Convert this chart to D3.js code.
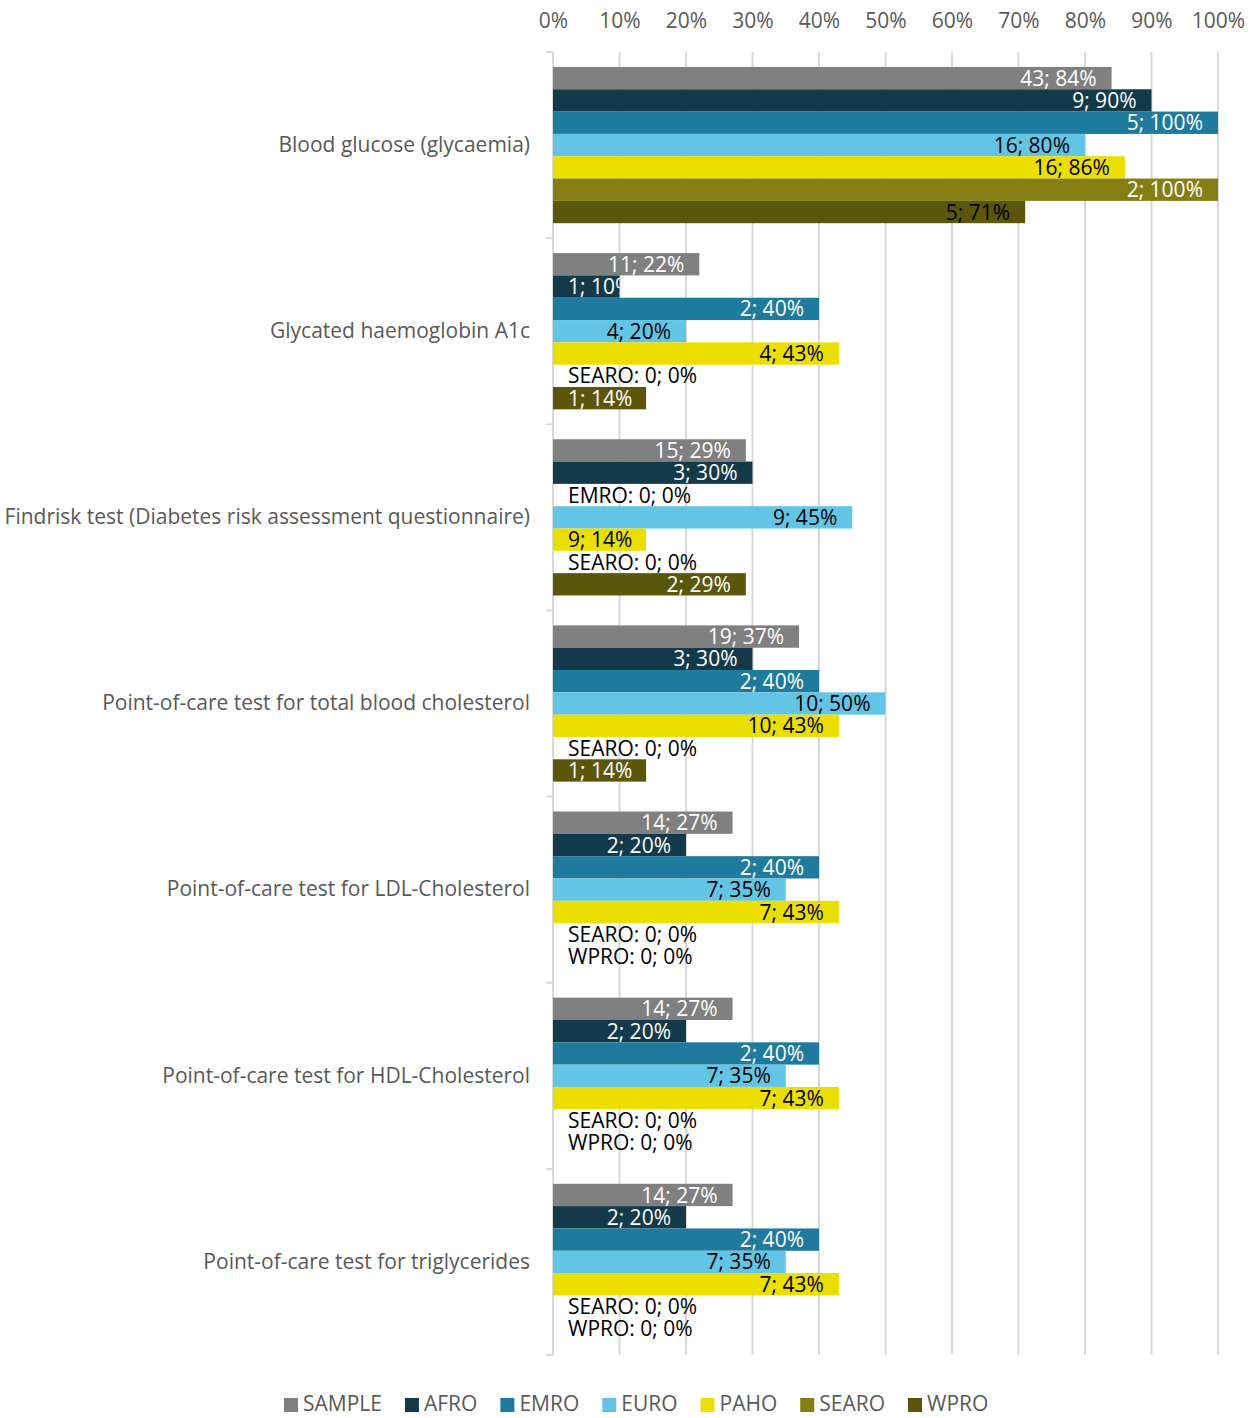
<!DOCTYPE html>
<html>
<head>
<meta charset="utf-8">
<script src="https://cdn.jsdelivr.net/npm/d3@7"></script>
<style>
  html, body { margin: 0; padding: 0; background: #ffffff; }
  svg { display: block; font-family: "Open Sans", "Noto Sans", sans-serif; }
</style>
</head>
<body>
<svg id="chart" width="1256" height="1418"></svg>
<script>
// Point-of-care tests available, by WHO region
const categories = [
  "Blood glucose (glycaemia)",
  "Glycated haemoglobin A1c",
  "Findrisk test (Diabetes risk assessment questionnaire)",
  "Point-of-care test for total blood cholesterol",
  "Point-of-care test for LDL-Cholesterol",
  "Point-of-care test for HDL-Cholesterol",
  "Point-of-care test for triglycerides"
];
const seriesNames = ["SAMPLE", "AFRO", "EMRO", "EURO", "PAHO", "SEARO", "WPRO"];
const seriesColors = ["#808080", "#133a4a", "#1f7b9d", "#63c5e5", "#ebdf00", "#847e14", "#5c560b"];
const labelColors  = ["#ffffff", "#ffffff", "#ffffff", "#000000", "#000000", "#ffffff", "#ffffff"];

// share (%) per category, one array per series
const SAMPLE = [84, 22, 29, 37, 27, 27, 27];
const AFRO   = [90, 10, 30, 30, 20, 20, 20];
const EMRO   = [100, 40, 0, 40, 40, 40, 40];
const EURO   = [80, 20, 45, 50, 35, 35, 35];
const PAHO   = [86, 43, 14, 43, 43, 43, 43];
const SEARO  = [100, 0, 0, 0, 0, 0, 0];
const WPRO   = [71, 14, 29, 14, 0, 0, 0];

// number of countries per category, one array per series
const SAMPLE_N = [43, 11, 15, 19, 14, 14, 14];
const AFRO_N   = [9, 1, 3, 3, 2, 2, 2];
const EMRO_N   = [5, 2, 0, 2, 2, 2, 2];
const EURO_N   = [16, 4, 9, 10, 7, 7, 7];
const PAHO_N   = [16, 4, 9, 10, 7, 7, 7];
const SEARO_N  = [2, 0, 0, 0, 0, 0, 0];
const WPRO_N   = [5, 1, 2, 1, 0, 0, 0];

const xTicks = [0, 10, 20, 30, 40, 50, 60, 70, 80, 90, 100];
// one data label drawn dark on its bar
const darkLabels = [{ cat: 0, series: "WPRO" }];

const values = [SAMPLE, AFRO, EMRO, EURO, PAHO, SEARO, WPRO];
const counts = [SAMPLE_N, AFRO_N, EMRO_N, EURO_N, PAHO_N, SEARO_N, WPRO_N];

const rows = [];
categories.forEach((c, ci) => {
  seriesNames.forEach((s, si) => {
    rows.push({ cat: c, ci, series: s, si, value: values[si][ci], n: counts[si][ci] });
  });
});

const svg = d3.select("#chart");
const textGray = "#595959";
const gridGray = "#d9d9d9";
const fs = 21;

const plot = { left: 553, right: 1218, top: 52, bottom: 1355 };

const x = d3.scaleLinear().domain([0, 100]).range([plot.left, plot.right]);
const y = d3.scaleBand().domain(categories).range([plot.top, plot.bottom]).padding(0);
const yInner = d3.scaleBand().domain(seriesNames).range([0, y.bandwidth()]).paddingInner(0).paddingOuter(0.67);
const color = d3.scaleOrdinal().domain(seriesNames).range(seriesColors);

// vertical gridlines
svg.append("g")
  .selectAll("line")
  .data(xTicks.slice(1))
  .join("line")
  .attr("x1", d => x(d)).attr("x2", d => x(d))
  .attr("y1", plot.top).attr("y2", plot.bottom)
  .attr("stroke", gridGray).attr("stroke-width", 2);

// top percentage axis
const xAxis = d3.axisTop(x).tickValues(xTicks).tickFormat(d => d + "%").tickSize(0).tickPadding(0);
const gx = svg.append("g").attr("transform", "translate(0,28)").call(xAxis);
gx.select(".domain").remove();
gx.selectAll("text")
  .attr("dy", 0)
  .attr("font-size", fs)
  .attr("font-family", "Open Sans")
  .attr("fill", textGray);

// category axis on the left
const yAxis = d3.axisLeft(y).tickSize(0).tickPadding(23);
const gy = svg.append("g").attr("transform", `translate(${plot.left},0)`).call(yAxis);
gy.select(".domain").remove();
gy.selectAll("text")
  .attr("font-size", fs)
  .attr("font-family", "Open Sans")
  .attr("fill", textGray);

// axis line with boundary ticks between categories
const axisG = svg.append("g");
axisG.append("line")
  .attr("x1", plot.left).attr("x2", plot.left)
  .attr("y1", plot.top).attr("y2", plot.bottom)
  .attr("stroke", gridGray).attr("stroke-width", 2);
const boundaries = categories.map(c => y(c)).concat([plot.bottom]);
axisG.selectAll("line.tick")
  .data(boundaries)
  .join("line")
  .attr("class", "tick")
  .attr("x1", plot.left - 7).attr("x2", plot.left)
  .attr("y1", d => d).attr("y2", d => d)
  .attr("stroke", gridGray).attr("stroke-width", 2);

// bars
const defs = svg.append("defs");
const barG = svg.append("g");
const groups = barG.selectAll("g")
  .data(rows)
  .join("g")
  .attr("transform", d => `translate(0,${y(d.cat) + yInner(d.series)})`);

groups.filter(d => d.value > 0)
  .append("rect")
  .attr("x", x(0))
  .attr("y", 0)
  .attr("width", d => x(d.value) - x(0))
  .attr("height", yInner.bandwidth())
  .attr("fill", d => color(d.series));

groups.filter(d => d.value > 0).each(function (d) {
  const id = `clip-${d.ci}-${d.si}`;
  defs.append("clipPath").attr("id", id)
    .append("rect")
    .attr("x", x(0)).attr("y", y(d.cat) + yInner(d.series))
    .attr("width", x(d.value) - x(0)).attr("height", yInner.bandwidth());
  const dark = darkLabels.some(o => o.cat === d.ci && o.series === d.series);
  const t = d3.select(this).append("text")
    .attr("clip-path", `url(#${id})`)
    .attr("transform", `translate(0,${-(y(d.cat) + yInner(d.series))})`)
    .attr("y", y(d.cat) + yInner(d.series) + yInner.bandwidth() / 2)
    .attr("dy", "0.36em")
    .attr("font-size", fs)
    .attr("fill", dark ? "#000000" : labelColors[d.si])
    .text(`${d.n}; ${d.value}%`);
  const w = t.node().getComputedTextLength();
  const xr = x(d.value) - 15 - w;
  t.attr("x", Math.max(xr, x(0) + 15));
});

// zero-value labels carry the series name
groups.filter(d => d.value === 0)
  .append("text")
  .attr("x", x(0) + 15)
  .attr("y", yInner.bandwidth() / 2)
  .attr("dy", "0.36em")
  .attr("font-size", fs)
  .attr("fill", "#000000")
  .text(d => `${d.series}: ${d.n}; ${d.value}%`);

// legend
const legend = svg.append("g").attr("transform", "translate(0,1403)");
let lx = 284;
seriesNames.forEach((s) => {
  const item = legend.append("g").attr("transform", `translate(${lx},0)`);
  item.append("rect").attr("x", 0).attr("y", -5).attr("width", 14).attr("height", 14).attr("fill", color(s));
  const t = item.append("text")
    .attr("x", 19).attr("y", 0).attr("dy", "0.4em")
    .attr("font-size", fs).attr("fill", textGray).text(s);
  lx += 19 + t.node().getComputedTextLength() + 23;
});
</script>
</body>
</html>
